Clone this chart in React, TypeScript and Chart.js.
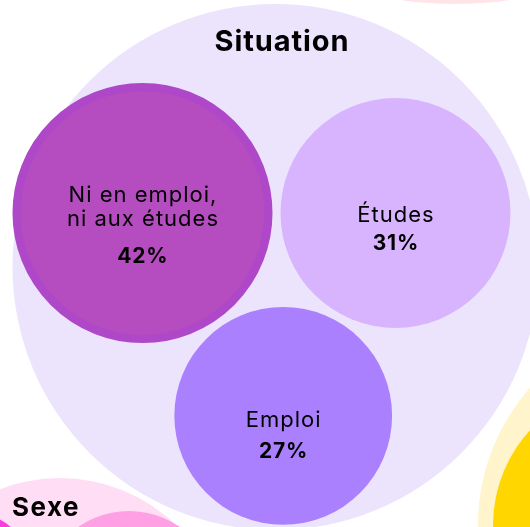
import React, { useEffect, useRef } from "react";
import { Chart, registerables } from "chart.js";

Chart.register(...registerables);

// ---------- data ----------
const groupTitle = "Situation";
const categories = ["Ni en emploi,\nni aux études", "Études", "Emploi"];
const shares = [42, 31, 27];
const neighbourTitle = "Sexe";

// ---------- styles / layout ----------
const W = 530;
const H = 527;
const FONT = "Inter, 'Open Sans', sans-serif";
const childColors = ["#b54cc0", "#d8b4fe", "#ab80ff"];
const childBorderColors = ["#ae47c8", "#d8b4fe", "#ab80ff"];
const childBorderWidths = [8, 0, 0];
const parentColor = "#ece4fc";
const GAP = 8;
const anchor = { x: 142.5, y: 213 };
const parentCircle = { x: 275.5, y: 267, r: 263 };
// label baselines relative to circle centre: [name lines..., percentage]
const labelBaselines = [
  [-11.3, 12.7, 49.7],
  [9.2, 36.5],
  [10.7, 42.3],
];
// neighbouring (partially visible) groups of the packed layout
const contextCircles = [
  { x: 455, y: -376, r: 380, color: "#ffe5e8" },
  { x: 685, y: 525, r: 207, color: "#fff4cc" },
  { x: 633, y: 525, r: 140, color: "#ffd600" },
  { x: 60, y: 645, r: 167, color: "#ffdef5" },
  { x: 129, y: 600, r: 89, color: "#ffa0e4" },
  { x: -30, y: 575, r: 63, color: "#f93ddc" },
];
const SEXE_CIRCLE = 3;

const radiusFor = (v: number) => 16.45 * Math.sqrt(v) + 23.4;

function packChildren() {
  const radii = shares.map(radiusFor);
  const [rA, rB, rC] = radii;
  const dAB = rA + rB + GAP;
  const dAC = rA + rC + GAP;
  const dBC = rB + rC + GAP;
  const cx = (dAC * dAC - dBC * dBC + dAB * dAB) / (2 * dAB);
  const cy = Math.sqrt(dAC * dAC - cx * cx);
  const centres = [
    { x: anchor.x, y: anchor.y },
    { x: anchor.x + dAB, y: anchor.y },
    { x: anchor.x + cx, y: anchor.y + cy },
  ];
  return centres.map((c, i) => ({
    x: c.x,
    y: c.y,
    r: radii[i] - childBorderWidths[i] / 2,
  }));
}

function drawCentred(ctx: CanvasRenderingContext2D, text: string, x: number, y: number, spacing: number) {
  (ctx as any).letterSpacing = `${spacing}px`;
  // trailing spacing is included in the advance; compensate for centring
  ctx.fillText(text, x + spacing / 2, y);
}

const labelPlugin = {
  id: "circleLabels",
  afterDatasetsDraw(chart: any) {
    const ctx = chart.ctx as CanvasRenderingContext2D;
    ctx.save();
    ctx.fillStyle = "#000";
    ctx.textAlign = "center";
    ctx.textBaseline = "alphabetic";

    const childMeta = chart.getDatasetMeta(0);
    childMeta.data.forEach((el: any, i: number) => {
      const lines = categories[i].split("\n");
      const offs = labelBaselines[i];
      ctx.font = `400 22px ${FONT}`;
      lines.forEach((line, j) => drawCentred(ctx, line, el.x, el.y + offs[j], 1));
      ctx.font = `700 21px ${FONT}`;
      drawCentred(ctx, `${shares[i]}%`, el.x, el.y + offs[lines.length], 0.8);
    });

    const parentEl: any = chart.getDatasetMeta(1).data[0];
    const pr = parentEl.options.radius;
    ctx.font = `700 29px ${FONT}`;
    drawCentred(ctx, groupTitle, parentEl.x + 6, parentEl.y - pr + 47, 0.9);

    const sexeEl: any = chart.getDatasetMeta(2).data[SEXE_CIRCLE];
    const sr = sexeEl.options.radius;
    ctx.textAlign = "left";
    ctx.font = `700 26px ${FONT}`;
    (ctx as any).letterSpacing = "1.5px";
    ctx.fillText(neighbourTitle, sexeEl.x - 48, sexeEl.y - sr + 38);
    ctx.restore();
  },
};

export default function App() {
  const ref = useRef<HTMLCanvasElement | null>(null);

  useEffect(() => {
    const canvas = ref.current;
    if (!canvas) return;
    const children = packChildren();
    const chart = new Chart(canvas, {
      type: "bubble",
      data: {
        datasets: [
          {
            label: "children",
            data: children,
            backgroundColor: childColors,
            borderColor: childBorderColors,
            borderWidth: childBorderWidths,
            clip: false,
          },
          {
            label: groupTitle,
            data: [parentCircle],
            backgroundColor: parentColor,
            borderWidth: 0,
            clip: false,
          },
          {
            label: "context",
            data: contextCircles.map((c) => ({ x: c.x, y: c.y, r: c.r })),
            backgroundColor: contextCircles.map((c) => c.color),
            borderWidth: 0,
            clip: false,
          },
        ],
      },
      options: {
        responsive: false,
        animation: false,
        events: [],
        layout: { padding: 0, autoPadding: false },
        scales: {
          x: { type: "linear", min: 0, max: W, display: false },
          y: { type: "linear", min: 0, max: H, reverse: true, display: false },
        },
        plugins: {
          legend: { display: false },
          tooltip: { enabled: false },
        },
      },
      plugins: [labelPlugin],
    });
    return () => chart.destroy();
  }, []);

  return (
    <div style={{ position: "fixed", left: 0, top: 0, width: W, height: H, background: "#fff" }}>
      <canvas ref={ref} width={W} height={H} style={{ display: "block" }} />
    </div>
  );
}
